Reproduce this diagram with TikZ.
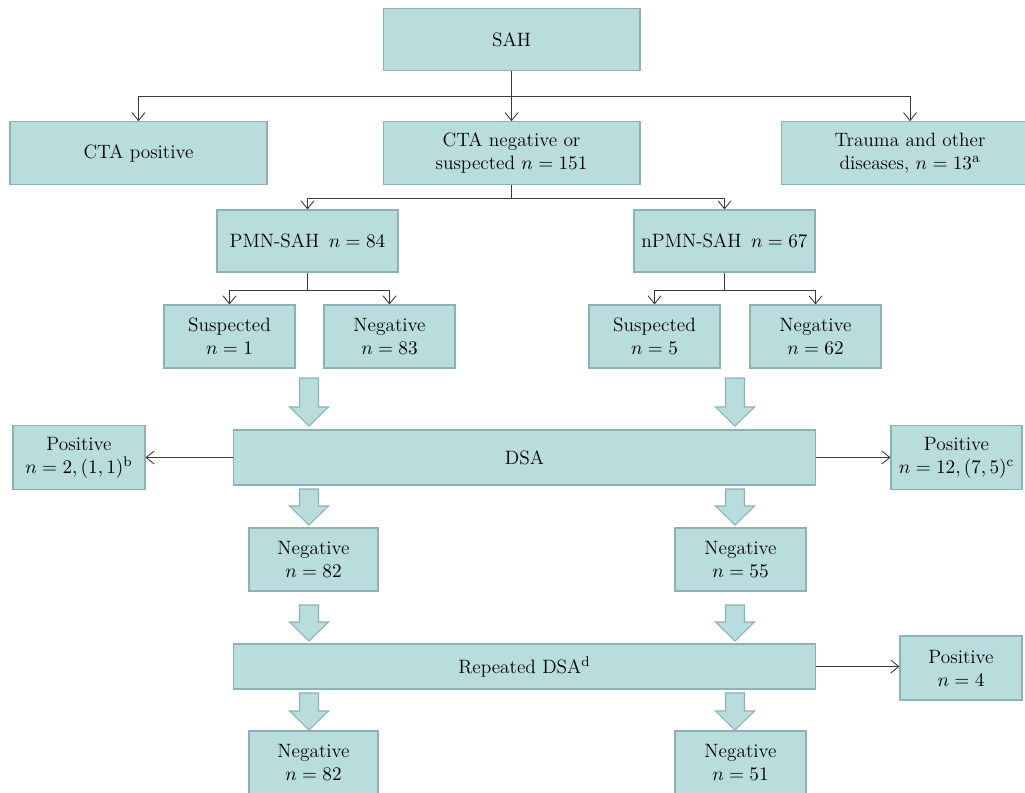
\documentclass[tikz,border=0pt]{standalone}
\usepackage{tikz}
\usetikzlibrary{arrows.meta}

\definecolor{boxfill}{HTML}{B9DCDD}
\definecolor{boxline}{HTML}{8DB2B5}
\definecolor{linkcol}{HTML}{3A3A3A}

% big hollow-looking arrows between the stages: x, top, tip
\newcommand{\fatarrow}[3]{%
  \filldraw[fat] (#1-9.5,#2) -- (#1+9.5,#2) -- (#1+9.5,#3-19) -- (#1+19.5,#3-19)
    -- (#1,#3) -- (#1-19.5,#3-19) -- (#1-9.5,#3-19) -- cycle;}

\tikzset{
  box/.style={draw=boxline, fill=boxfill, line width=0.6pt, align=center,
    inner sep=0pt, font=\fontsize{11}{13}\selectfont},
  wide/.style={box, minimum width=5.14cm, minimum height=1.25cm},
  mid/.style={box, minimum width=3.62cm, minimum height=1.24cm},
  small/.style={box, minimum width=2.62cm, minimum height=1.26cm},
  band/.style={box, minimum width=11.66cm},
  link/.style={draw=linkcol, line width=0.5pt, -{Straight Barb[length=1.6mm,width=2.6mm]}},
  fat/.style={draw=boxline, fill=boxfill, line width=0.6pt},
}

\begin{document}
\begin{tikzpicture}[x=0.02cm, y=-0.02cm]

\useasboundingbox (0,0) rectangle (1025,792);

% top level
\node[wide] (sah) at (511.5,39.5) {SAH};
\node[wide] (ctapos) at (138.5,153) {CTA positive};
\node[wide] (ctaneg) at (511.5,153) {CTA negative or\\suspected $n = 151$};
\node[wide] (trauma) at (910,153) {Trauma and other\\diseases, $n = 13^{\mathrm{a}}$};

\draw[linkcol, line width=0.5pt] (sah.south) -- ++(0,25) coordinate (split1);
\draw[link] (split1) -| (ctapos.north);
\draw[link] (split1) -- (ctaneg.north);
\draw[link] (split1) -| (trauma.north);

% PMN / nPMN
\node[mid] (pmn) at (307.5,241) {PMN-SAH\, $n = 84$};
\node[mid] (npmn) at (724.5,241) {nPMN-SAH\, $n = 67$};

\draw[linkcol, line width=0.5pt] (ctaneg.south) -- ++(0,14) coordinate (split2);
\draw[link] (split2) -| (pmn.north);
\draw[link] (split2) -| (npmn.north);

\node[small] (susp1) at (229.5,336.5) {Suspected\\$n = 1$};
\node[small] (neg1) at (389.5,336.5) {Negative\\$n = 83$};
\node[small] (susp2) at (654.5,336.5) {Suspected\\$n = 5$};
\node[small] (neg2) at (815.5,336.5) {Negative\\$n = 62$};

\draw[linkcol, line width=0.5pt] (pmn.south) -- ++(0,18) coordinate (split3);
\draw[link] (split3) -| (susp1.north);
\draw[link] (split3) -| (neg1.north);
\draw[linkcol, line width=0.5pt] (npmn.south) -- ++(0,18) coordinate (split4);
\draw[link] (split4) -| (susp2.north);
\draw[link] (split4) -| (neg2.north);

% DSA
\node[band, minimum height=1.1cm] (dsa) at (524.5,457.5) {DSA};
\node[box, minimum width=2.64cm, minimum height=1.28cm] (pos1) at (79,457.5) {Positive\\$n = 2, (1, 1)^{\mathrm{b}}$};
\node[box, minimum width=2.62cm, minimum height=1.28cm] (pos2) at (956.5,457.5) {Positive\\$n = 12, (7, 5)^{\mathrm{c}}$};

\fatarrow{309}{378}{426}
\fatarrow{735}{378}{426}
\draw[link] (dsa.west) -- (pos1.east);
\draw[link] (dsa.east) -- (pos2.west);

\node[small, minimum width=2.58cm] (neg3) at (313.5,559.5) {Negative\\$n = 82$};
\node[small] (neg4) at (740.5,559.5) {Negative\\$n = 55$};

\fatarrow{309}{489}{525}
\fatarrow{735}{489}{525}

% repeated DSA
\node[band, minimum height=0.9cm] (rep) at (524.5,666.5) {Repeated DSA$^{\mathrm{d}}$};
\node[box, minimum width=2.44cm, minimum height=1.28cm] (pos3) at (961,668) {Positive\\$n = 4$};

\fatarrow{309}{605}{641}
\fatarrow{735}{605}{641}
\draw[link] (rep.east) -- (rep.east -| pos3.west);

\node[small, minimum width=2.58cm] (neg5) at (313.5,762.5) {Negative\\$n = 82$};
\node[small] (neg6) at (740.5,762.5) {Negative\\$n = 51$};

\fatarrow{309}{693}{730}
\fatarrow{735}{693}{730}

\end{tikzpicture}
\end{document}
